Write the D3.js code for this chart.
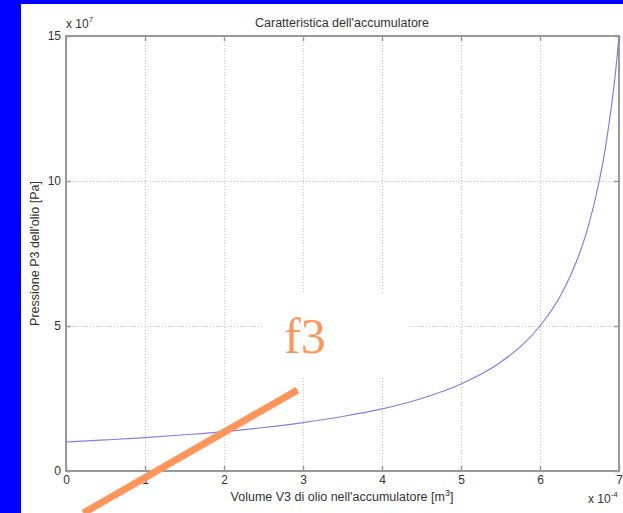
<!DOCTYPE html>
<html>
<head>
<meta charset="utf-8">
<script src="https://cdn.jsdelivr.net/npm/d3@7"></script>
<style>
  html, body { margin: 0; padding: 0; background: #0000ff; }
  svg { display: block; }
  text { font-family: "Liberation Sans", Arial, sans-serif; fill: #333; }
  text.f3 { font-family: "Liberation Serif", "Times New Roman", serif; fill: #ff955a; }
</style>
</head>
<body>
<svg class="chart" width="623" height="513"></svg>
<script>
// volume V3 (x 1e-4 m^3) and pressure P3 (x 1e7 Pa)
var volume   = [0, 0.5, 1, 1.5, 2, 2.5, 3, 3.5, 4, 4.5, 5, 5.5, 6, 6.25, 6.5, 6.6, 6.75, 6.8, 6.9, 6.95, 7];
var pressure = [1.0, 1.07, 1.15, 1.25, 1.36, 1.5, 1.67, 1.88, 2.14, 2.5, 3.0, 3.75, 5.0, 6.0, 7.5, 8.33, 10.0, 10.7, 12.5, 13.6, 15.0];
var xTicks = [0, 1, 2, 3, 4, 5, 6, 7];
var yTicks = [0, 5, 10, 15];
// hand-drawn "f3" marker line, in data units
var markerX = [0.22, 2.93];
var markerY = [-1.45, 2.79];

(function() {
  var svg = d3.select('.chart');
  var left = 66, right = 619, top = 36, bottom = 471;

  var x = d3.scaleLinear().domain([0, 7]).range([left, right]);
  var y = d3.scaleLinear().domain([0, 15]).range([bottom, top]);

  // white panel
  svg.append('rect')
    .attr('x', 21).attr('y', 4)
    .attr('width', 602).attr('height', 509)
    .attr('fill', '#fff');

  // grid
  var grid = svg.append('g')
    .attr('stroke', '#c8c8c8')
    .attr('stroke-width', 1)
    .attr('stroke-dasharray', '1,2');
  grid.selectAll('.gx')
    .data(xTicks.slice(1, -1))
    .enter().append('line')
      .attr('x1', function(d) { return x(d) + 0.5; })
      .attr('x2', function(d) { return x(d) + 0.5; })
      .attr('y1', top).attr('y2', bottom);
  grid.selectAll('.gy')
    .data(yTicks.slice(1, -1))
    .enter().append('line')
      .attr('y1', function(d) { return y(d) + 0.5; })
      .attr('y2', function(d) { return y(d) + 0.5; })
      .attr('x1', left).attr('x2', right);

  // white box behind the label
  svg.append('rect')
    .attr('x', 263).attr('y', 292)
    .attr('width', 147).attr('height', 85)
    .attr('fill', '#fff');

  // axes box with inward ticks
  var axisColor = '#999';
  svg.append('rect')
    .attr('x', left).attr('y', top)
    .attr('width', right - left).attr('height', bottom - top)
    .attr('fill', 'none')
    .attr('stroke', axisColor)
    .attr('stroke-width', 2);

  var xAxis = d3.axisBottom(x).tickValues(xTicks).tickSize(-5).tickPadding(4).tickFormat(d3.format('d'));
  var yAxis = d3.axisLeft(y).tickValues(yTicks).tickSize(-5).tickPadding(5).tickFormat(d3.format('d'));

  var gx = svg.append('g').attr('transform', 'translate(0,' + bottom + ')').call(xAxis);
  var gxTop = svg.append('g').attr('transform', 'translate(0,' + top + ')')
    .call(d3.axisTop(x).tickValues(xTicks).tickSize(-5).tickFormat(''));
  var gy = svg.append('g').attr('transform', 'translate(' + left + ',0)').call(yAxis);
  var gyRight = svg.append('g').attr('transform', 'translate(' + right + ',0)')
    .call(d3.axisRight(y).tickValues(yTicks).tickSize(-5).tickFormat(''));

  [gx, gxTop, gy, gyRight].forEach(function(g) {
    g.select('.domain').remove();
    g.selectAll('line').attr('stroke', axisColor).attr('stroke-width', 1.5);
    g.selectAll('text')
      .attr('font-size', 12)
      .attr('font-family', '"Liberation Sans", Arial, sans-serif')
      .attr('fill', '#333');
  });

  // pressure curve
  var pts = volume.map(function(v, i) { return [v, pressure[i]]; });
  svg.append('path')
    .datum(pts)
    .attr('fill', 'none')
    .attr('stroke', '#8080e6')
    .attr('stroke-width', 1.2)
    .attr('d', d3.line()
      .x(function(d) { return x(d[0]); })
      .y(function(d) { return y(d[1]); })
      .curve(d3.curveMonotoneX));

  // title and labels
  svg.append('text')
    .attr('x', 342).attr('y', 27)
    .attr('text-anchor', 'middle')
    .attr('font-size', 12.5)
    .text("Caratteristica dell'accumulatore");

  var xl = svg.append('text')
    .attr('x', 342).attr('y', 501)
    .attr('text-anchor', 'middle')
    .attr('font-size', 12.5)
    .text("Volume V3 di olio nell'accumulatore [m");
  xl.append('tspan').attr('dy', -5).attr('font-size', 9).text('3');
  xl.append('tspan').attr('dy', 5).text(']');

  svg.append('text')
    .attr('transform', 'translate(39,' + ((top + bottom) / 2) + ') rotate(-90)')
    .attr('text-anchor', 'middle')
    .attr('font-size', 12.5)
    .text("Pressione P3 dell'olio [Pa]");

  var e7 = svg.append('text')
    .attr('x', 66).attr('y', 28)
    .attr('font-size', 12)
    .text('x 10');
  e7.append('tspan').attr('dy', -6).attr('font-size', 8).text('7');

  var e4 = svg.append('text')
    .attr('x', 588).attr('y', 503)
    .attr('font-size', 12)
    .text('x 10');
  e4.append('tspan').attr('dy', -6).attr('font-size', 8).text('-4');

  // orange marker line and label
  svg.append('line')
    .attr('x1', x(markerX[0])).attr('y1', y(markerY[0]))
    .attr('x2', x(markerX[1])).attr('y2', y(markerY[1]))
    .attr('stroke', '#ff955a')
    .attr('stroke-width', 7);

  svg.append('text')
    .attr('class', 'f3')
    .attr('x', 284).attr('y', 353)
    .attr('font-size', 50)
    .text('f3');
})();
</script>
</body>
</html>
